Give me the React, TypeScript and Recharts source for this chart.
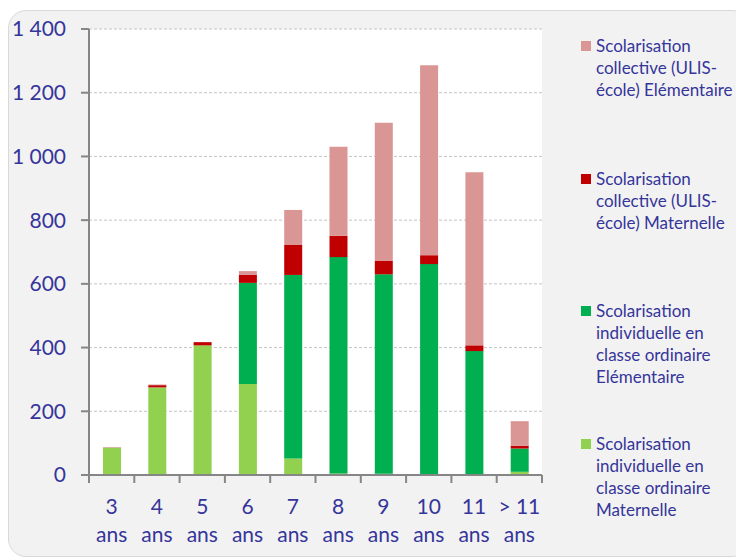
import { BarChart, Bar, XAxis, YAxis, CartesianGrid } from 'recharts';

const categories = ['3 ans', '4 ans', '5 ans', '6 ans', '7 ans', '8 ans', '9 ans', '10 ans', '11 ans', '> 11 ans'];
const indMaternelle = [86, 275, 407, 286, 52, 5, 4, 3, 3, 10];
const indElementaire = [0, 0, 0, 317, 576, 679, 626, 659, 386, 73];
const collMaternelle = [0, 7, 10, 25, 94, 67, 43, 28, 18, 9];
const collElementaire = [2, 2, 0, 12, 110, 279, 433, 596, 543, 77];
const yTicks = [0, 200, 400, 600, 800, 1000, 1200, 1400];

const series = [
  { key: 'indMat', name: ['Scolarisation', 'individuelle en', 'classe ordinaire', 'Maternelle'], color: '#92D050' },
  { key: 'indElem', name: ['Scolarisation', 'individuelle en', 'classe ordinaire', 'Elémentaire'], color: '#00B050' },
  { key: 'collMat', name: ['Scolarisation', 'collective (ULIS-', 'école) Maternelle'], color: '#C00000' },
  { key: 'collElem', name: ['Scolarisation', 'collective (ULIS-', 'école) Elémentaire'], color: '#D99694' },
];

const data = categories.map((c, i) => ({
  cat: c,
  indMat: indMaternelle[i],
  indElem: indElementaire[i],
  collMat: collMaternelle[i],
  collElem: collElementaire[i],
}));

const WIDTH = 736;
const HEIGHT = 558;
const MARGIN = { top: 29, right: 194, bottom: 8, left: 9 };
const Y_AXIS_W = 80;
const BAND = (WIDTH - MARGIN.left - MARGIN.right - Y_AXIS_W) / categories.length;
const TEXT = '#35359A';
const AXIS = '#868686';
const FONT = 'Lato, "Open Sans", sans-serif';

const fmt = (v: number) => String(v).replace(/\B(?=(\d{3})+(?!\d))/g, ' ');

function XTick(props: any) {
  const { x, y, payload, index } = props;
  const label: string = payload.value;
  const cut = label.lastIndexOf(' ');
  const first = label.slice(0, cut);
  const second = label.slice(cut + 1);
  return (
    <g>
      <line x1={x - BAND / 2} x2={x - BAND / 2} y1={y - 8} y2={y} stroke={AXIS} strokeWidth={2} />
      {index === categories.length - 1 && (
        <line x1={x + BAND / 2} x2={x + BAND / 2} y1={y - 8} y2={y} stroke={AXIS} strokeWidth={2} />
      )}
      <text x={x} y={y + 31} textAnchor="middle" fill={TEXT} fontSize={21} fontFamily={FONT}>{first}</text>
      <text x={x} y={y + 59} textAnchor="middle" fill={TEXT} fontSize={21} fontFamily={FONT}>{second}</text>
    </g>
  );
}

function LegendBox() {
  const items = [...series].reverse();
  return (
    <div style={{ position: 'absolute', left: 581, top: 35, fontFamily: FONT, fontSize: 17, lineHeight: '22px', color: TEXT }}>
      {items.map((s) => (
        <div key={s.key} style={{ height: 132.5, display: 'flex', alignItems: 'flex-start', whiteSpace: 'nowrap' }}>
          <span style={{ display: 'inline-block', width: 10, height: 10, background: s.color, marginTop: 6, marginRight: 5 }} />
          <div>
            {s.name.map((line) => (
              <div key={line}>{line}</div>
            ))}
          </div>
        </div>
      ))}
    </div>
  );
}

export default function App() {
  return (
    <div style={{ position: 'absolute', left: 0, top: 0, width: WIDTH, height: HEIGHT, overflow: 'hidden' }}>
      <div
        style={{
          position: 'absolute',
          left: 8,
          top: 10,
          width: 740,
          height: 545,
          background: '#f2f2f2',
          border: '1px solid #d9d9d9',
          borderRadius: 18,
        }}
      />
      <div style={{ position: 'absolute', left: 0, top: 0 }}>
        <BarChart width={WIDTH} height={HEIGHT} data={data} margin={MARGIN} barSize={18}>
          <CartesianGrid vertical={false} stroke="#c4c4c4" strokeDasharray="3 2" fill="#ffffff" />
          <XAxis
            dataKey="cat"
            height={75}
            interval={0}
            axisLine={{ stroke: AXIS, strokeWidth: 2 }}
            tickLine={false}
            tickSize={8}
            tickMargin={0}
            tick={<XTick />}
          />
          <YAxis
            width={Y_AXIS_W}
            domain={[0, 1400]}
            ticks={yTicks}
            tickFormatter={fmt}
            axisLine={{ stroke: AXIS, strokeWidth: 2 }}
            tickLine={{ stroke: AXIS, strokeWidth: 2 }}
            tickSize={8}
            tickMargin={15}
            tick={{ fill: TEXT, fontSize: 21, fontFamily: FONT }}
          />
          {series.map((s) => (
            <Bar key={s.key} dataKey={s.key} stackId="a" fill={s.color} isAnimationActive={false} />
          ))}
        </BarChart>
      </div>
      <LegendBox />
    </div>
  );
}
